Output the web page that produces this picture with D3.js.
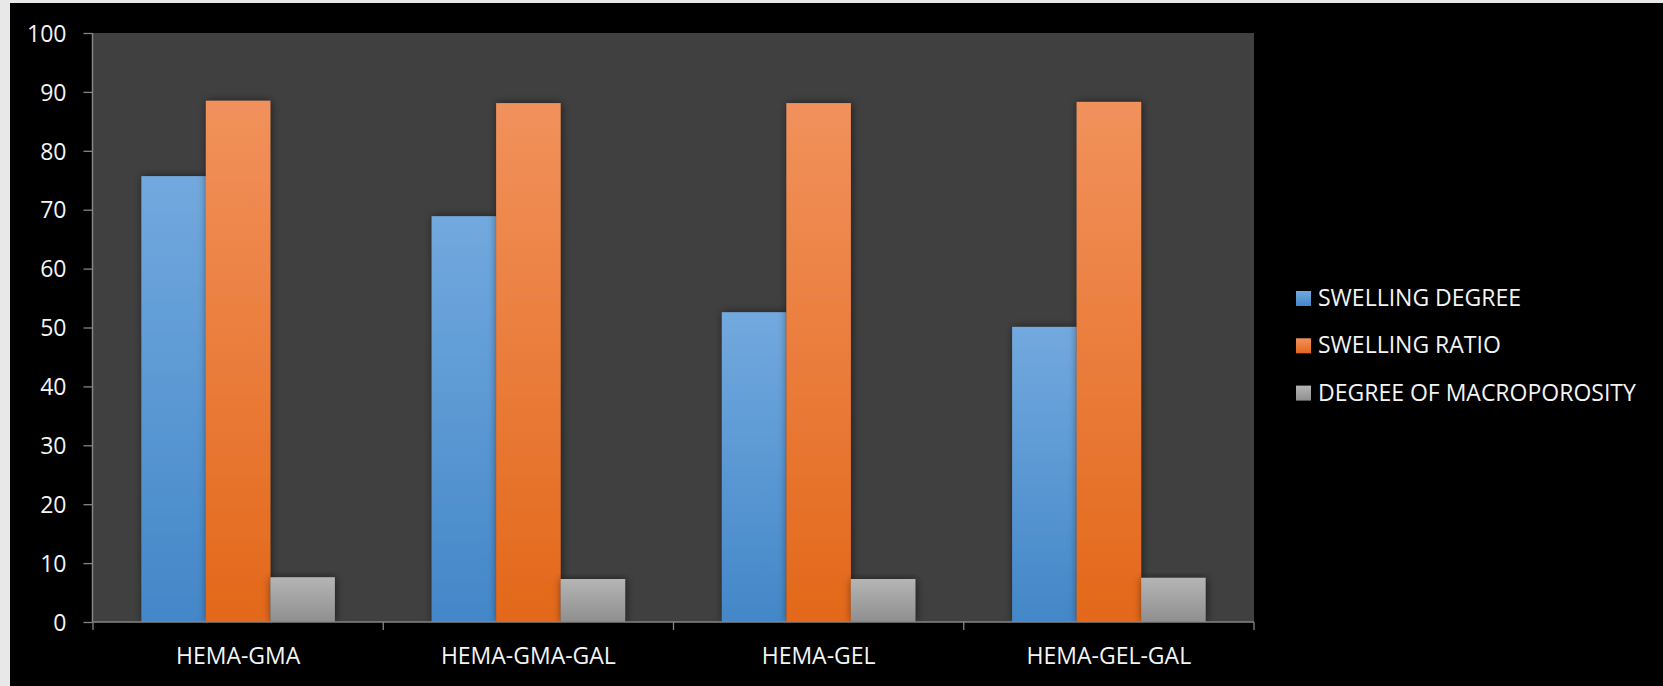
<!DOCTYPE html>
<html>
<head>
<meta charset="utf-8">
<script src="https://cdn.jsdelivr.net/npm/d3@7"></script>
<style>
  html, body { margin: 0; padding: 0; background: #e8e8e8; }
  svg { display: block; }
  text { font-family: "Open Sans", "Noto Sans", sans-serif; fill: #f4f4f4; }
</style>
</head>
<body>
<svg id="chart" width="1663" height="686"></svg>
<script>
// Hydrogel samples
const categories = ["HEMA-GMA", "HEMA-GMA-GAL", "HEMA-GEL", "HEMA-GEL-GAL"];
const seriesNames = ["SWELLING DEGREE", "SWELLING RATIO", "DEGREE OF MACROPOROSITY"];
const swellingDegree = [75.7, 68.9, 52.6, 50.1];
const swellingRatio = [88.5, 88.1, 88.1, 88.3];
const macroporosity = [7.6, 7.3, 7.3, 7.5];
const yTicks = [0, 10, 20, 30, 40, 50, 60, 70, 80, 90, 100];

const seriesValues = [swellingDegree, swellingRatio, macroporosity];
const seriesKeys = ["deg", "ratio", "macro"];
const gradStops = {
  deg:   ["#72a9de", "#4387c8"],
  ratio: ["#f1915c", "#e3681a"],
  macro: ["#b5b5b5", "#8f8f8f"]
};

const svg = d3.select("#chart");
const W = 1663, H = 686;
const plot = { left: 93, right: 1254, top: 33, bottom: 622 };

// dark chart background
svg.append("rect").attr("x", 10).attr("y", 3).attr("width", W - 10).attr("height", H - 3).attr("fill", "#000");

const defs = svg.append("defs");
seriesKeys.forEach(k => {
  const g = defs.append("linearGradient").attr("id", "g-" + k)
    .attr("x1", 0).attr("y1", 0).attr("x2", 0).attr("y2", 1);
  g.append("stop").attr("offset", "0%").attr("stop-color", gradStops[k][0]);
  g.append("stop").attr("offset", "100%").attr("stop-color", gradStops[k][1]);
});
const shadow = defs.append("filter").attr("id", "shadow")
  .attr("x", "-30%").attr("y", "-10%").attr("width", "160%").attr("height", "120%");
shadow.append("feDropShadow").attr("dx", 1).attr("dy", 0).attr("stdDeviation", 4)
  .attr("flood-color", "#000").attr("flood-opacity", 0.55);

// plot area
svg.append("rect")
  .attr("x", plot.left).attr("y", plot.top)
  .attr("width", plot.right - plot.left).attr("height", plot.bottom - plot.top)
  .attr("fill", "#404040");

const x0 = d3.scaleBand().domain(categories).range([plot.left, plot.right]).padding(0);
const x1 = d3.scaleBand().domain(seriesKeys).range([0, x0.bandwidth()])
  .paddingInner(0).paddingOuter(0.75);
const y = d3.scaleLinear().domain([0, 100]).range([plot.bottom, plot.top]);

// bars
const groups = svg.append("g").selectAll("g")
  .data(categories).join("g")
  .attr("transform", d => `translate(${x0(d)},0)`);

groups.selectAll("rect")
  .data((c, i) => seriesKeys.map((k, s) => ({ key: k, value: seriesValues[s][i] })))
  .join("rect")
  .attr("x", d => x1(d.key))
  .attr("y", d => y(d.value))
  .attr("width", x1.bandwidth())
  .attr("height", d => y(0) - y(d.value))
  .attr("fill", d => `url(#g-${d.key})`)
  .attr("filter", "url(#shadow)");

// y axis
const yAxis = svg.append("g")
  .attr("transform", `translate(${plot.left - 0.5},0)`)
  .call(d3.axisLeft(y).tickValues(yTicks).tickSize(9).tickPadding(17));
yAxis.select(".domain").attr("stroke", "#858585").attr("stroke-width", 1.5)
  .attr("d", `M0,${plot.top}V${plot.bottom}`);
yAxis.selectAll(".tick line").attr("stroke", "#858585").attr("stroke-width", 1.3);
yAxis.selectAll(".tick text")
  .attr("font-size", 23).attr("dy", "0.36em").attr("fill", "#f4f4f4")
  .attr("font-family", "'Open Sans', sans-serif");

// x axis
const xAxis = svg.append("g").attr("transform", `translate(0,${plot.bottom})`);
xAxis.append("line")
  .attr("x1", plot.left).attr("x2", plot.right)
  .attr("y1", 0).attr("y2", 0)
  .attr("stroke", "#858585").attr("stroke-width", 1.5);
const bounds = categories.map(c => x0(c)).concat([x0(categories[categories.length - 1]) + x0.bandwidth()]);
xAxis.selectAll("line.tick").data(bounds).join("line")
  .attr("class", "tick")
  .attr("x1", d => d).attr("x2", d => d)
  .attr("y1", 0).attr("y2", 8)
  .attr("stroke", "#858585").attr("stroke-width", 1.3);
xAxis.selectAll("text").data(categories).join("text")
  .attr("x", d => x0(d) + x0.bandwidth() / 2)
  .attr("y", 42)
  .attr("text-anchor", "middle")
  .attr("font-size", 23)
  .text(d => d);

// legend
const legend = svg.append("g").attr("transform", "translate(1296,291)");
const item = legend.selectAll("g").data(seriesKeys).join("g")
  .attr("transform", (d, i) => `translate(0,${i * 47.3})`);
item.append("rect")
  .attr("width", 15).attr("height", 15)
  .attr("fill", d => `url(#g-${d})`);
item.append("text")
  .attr("x", 22).attr("y", 15)
  .attr("font-size", 23)
  .text((d, i) => seriesNames[i]);
</script>
</body>
</html>
